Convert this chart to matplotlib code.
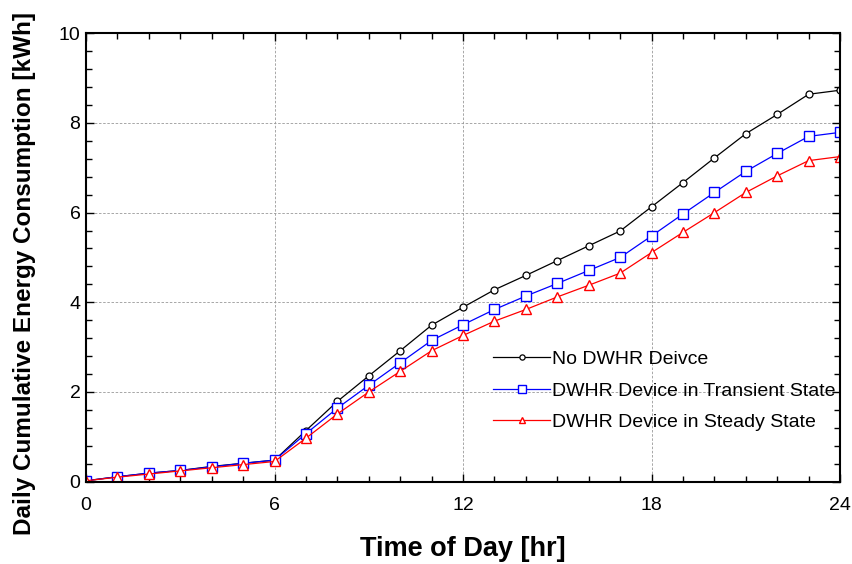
import matplotlib.pyplot as plt
from matplotlib.ticker import MultipleLocator

plt.rcParams['font.family'] = ['Liberation Sans', 'DejaVu Sans']

hours = list(range(25))

no_dwhr = [0.02, 0.11, 0.19, 0.25, 0.34, 0.41, 0.48, 1.14, 1.79, 2.36, 2.92, 3.49, 3.89,
           4.28, 4.60, 4.93, 5.26, 5.59, 6.13, 6.67, 7.22, 7.76, 8.19, 8.64, 8.73]
transient = [0.02, 0.11, 0.19, 0.25, 0.33, 0.41, 0.48, 1.07, 1.64, 2.15, 2.65, 3.15, 3.50,
             3.84, 4.14, 4.42, 4.71, 5.00, 5.48, 5.97, 6.45, 6.92, 7.32, 7.70, 7.79]
steady = [0.02, 0.10, 0.17, 0.24, 0.31, 0.38, 0.45, 0.97, 1.51, 2.00, 2.46, 2.92, 3.26,
          3.58, 3.84, 4.12, 4.38, 4.65, 5.11, 5.56, 6.00, 6.45, 6.82, 7.16, 7.25]

labels = ["No DWHR Deivce", "DWHR Device in Transient State", "DWHR Device in Steady State"]

fig = plt.figure(figsize=(8.52, 5.64), dpi=100)
ax = fig.add_axes([0.101, 0.146, 0.885, 0.795])

ax.plot(hours, no_dwhr, color='black', lw=0.9, marker='o', ms=5, mfc='white', mec='black', mew=0.9, label=labels[0])
ax.plot(hours, transient, color='blue', lw=0.9, marker='s', ms=7, mfc='white', mec='blue', mew=1.0, label=labels[1])
ax.plot(hours, steady, color='red', lw=0.9, marker='^', ms=6.5, mfc='white', mec='red', mew=1.0, label=labels[2])

ax.set_xlim(0, 24)
ax.set_ylim(0, 10)
ax.xaxis.set_major_locator(MultipleLocator(6))
ax.xaxis.set_minor_locator(MultipleLocator(1))
ax.yaxis.set_major_locator(MultipleLocator(2))
ax.yaxis.set_minor_locator(MultipleLocator(0.4))
ax.tick_params(which='both', direction='in', top=True, right=True, labelsize=14, width=1.0)
ax.tick_params(which='major', length=6)
ax.tick_params(which='minor', length=4)
ax.tick_params(axis='x', which='major', pad=11)
ax.tick_params(axis='y', which='major', pad=4)
for s in ax.spines.values():
    s.set_linewidth(1.5)

ax.grid(True, which='major', color='#999999', linestyle=(0, (3, 2)), linewidth=0.6)

ax.set_xlabel("Time of Day [hr]", fontsize=19.5, fontweight='bold', labelpad=16)
ax.set_ylabel("Daily Cumulative Energy Consumption [kWh]", fontsize=17.5, fontweight='bold')
ax.yaxis.set_label_coords(-0.067, 0.465)

leg = ax.legend(loc='upper left', bbox_to_anchor=(0.53, 0.31), frameon=False, fontsize=14,
                handlelength=2.9, handletextpad=0.1, labelspacing=0.72, borderaxespad=0,
                markerscale=0.75)

fig.savefig("out.png", dpi=100)
